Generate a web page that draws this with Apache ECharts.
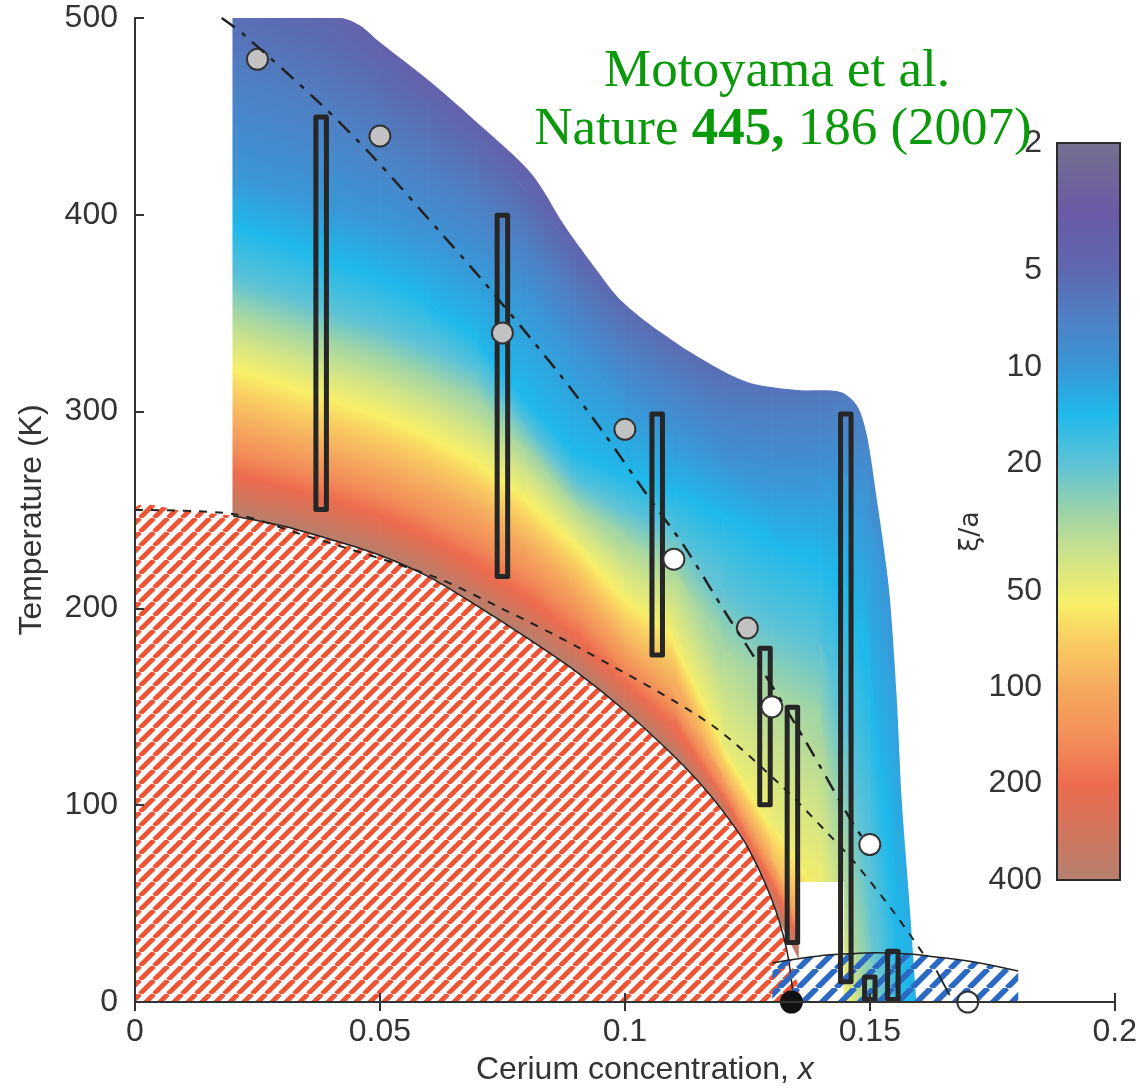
<!DOCTYPE html>
<html><head><meta charset="utf-8">
<script src="https://cdn.jsdelivr.net/npm/echarts@6/dist/echarts.min.js"></script>
<style>html,body{margin:0;padding:0;background:#fff;}#c{width:1140px;height:1091px;}</style>
</head><body><div id="c"></div>
<script>
// ---------------- data ----------------
const xTicks = [0, 0.05, 0.1, 0.15, 0.2];
const yTicks = [0, 100, 200, 300, 400, 500];
const cbTicks = [2, 5, 10, 20, 50, 100, 200, 400];

// colormap of xi/a (colour bar)
const cmapXi = [2, 3.3, 5, 7, 10, 14, 20, 30, 40, 55, 70, 100, 150, 200, 300, 400];
const cmapColors = ['#77708e','#6a5aa6','#5e68b0','#4f80c4','#3a96d6','#1fb8ea','#5cc2d6','#a6d6a2',
                    '#d2e486','#f8ef68','#f9cf62','#f5aa5e','#f28a58','#ec6b4e','#cc7760','#b5806e'];

// xi/a contour temperatures (K) at each concentration column
const fieldX = [0.02,0.03,0.04,0.05,0.06,0.07,0.08,0.09,0.10,0.11,0.12,0.13,0.14,0.145,0.15,0.155,0.16];
const levels = [2, 3, 5, 10, 14, 20, 30, 50, 100, 200, 400];
const tXi2   = [640,630,620,600,580,560,535,505,480,460,450,445,440,440,440,440,440];
const tXi3   = [560,548,535,515,492,470,445,412,382,362,360,365,370,375,380,385,390];
const tXi5   = [515,505,494,474,455,436,412,380,356,340,327,330,330,335,340,340,335];
const tXi10  = [420,413,405,396,386,374,356,328,305,288,272,262,265,268,245,200,140];
const tXi14  = [395,386,377,368,356,335,305,278,268,258,248,235,222,212,170,40,-40];
const tXi20  = [368,360,351,343,333,321,292,264,250,238,210,190,182,140,60,-40,-80];
const tXi30  = [350,342,334,326,316,304,280,252,235,220,180,160,140,70,-20,-80,-120];
const tXi50  = [326,318,310,302,292,278,258,235,208,190,130,90,60,0,-60,-120,-160];
const tXi100 = [294,287,280,272,262,250,232,210,182,160,115,72,20,-20,-100,-160,-200];
const tXi200 = [268,262,255,247,236,222,205,186,162,140,105,60,10,-40,-140,-200,-240];
const tXi400 = [246,241,234,226,215,200,185,167,147,124,96,49,0,-60,-180,-240,-280];

// upper / right edge of the measured region
const topX = [0.02,0.042,0.046,0.0498,0.0606,0.0707,0.0809,0.0878,0.0945,0.0986,0.1047,0.1148,0.125,0.135,0.144,0.1474,0.1494,0.1514,0.1529,0.1541,0.1555,0.1565,0.158,0.1595,0.1599];
const topT = [500,500,496,488,467,445,421,394,371,358,345,328,315,311,310,303,288,256,230,205,154,103,53,0,-20];
// empty patch near x = 0.14 at low T
const gapX = [0.1355, 0.1447];
const gapT = [0, 61];

// antiferromagnetic dome (red hatch)
const domeX = [0,0.01,0.02,0.03,0.04,0.05,0.06,0.07,0.08,0.09,0.10,0.11,0.115,0.12,0.125,0.13,0.133,0.1345];
const domeT = [250,249.5,247,242,235,227,216,201,185,168,148,125,112,97,79,52,27,0];
// superconducting dome (blue hatch)
const scX = [0.1301,0.136,0.1419,0.147,0.1508,0.158,0.1622,0.171,0.1803];
const scT = [19.8,22.2,24,24.7,25,24.4,23.3,20.5,15.7];

// dashed curves
const shortDashX = [0,0.02,0.0335,0.0606,0.074,0.091,0.117,0.1315,0.1413,0.1467,0.1545,0.1616];
const shortDashT = [250,248,238,216.5,201,179.5,142,111,86,71.5,47,22];
const tailX = [0.1636,0.1663];
const tailT = [16,3.5];
const dashDotX = [0.0177,0.022,0.0376,0.0484,0.062,0.0715,0.087,0.096,0.1047,0.112,0.121,0.1267,0.137,0.1467,0.149];
const dashDotT = [500,492,457,430,392,365,318,288,257,232,196,174,132,90,82];

// measured ranges (open boxes)
const barX    = [0.038,0.075,0.1066,0.1286,0.1342,0.1451,0.15,0.1547];
const barLow  = [249,215,175,99,29,9,0,0];
const barHigh = [451,401,300,181,151,300,14,27];

// points
const greyX = [0.025,0.05,0.075,0.1,0.125];
const greyT = [479,440,340,291,190];
const whiteX = [0.11,0.13,0.15,0.17];
const whiteT = [225,150,80,0];
const blackX = [0.134];
const blackT = [0];

// ---------------- helpers ----------------
const FONT = "'Liberation Sans', Arial, Helvetica, sans-serif";
const SERIF = "'Liberation Serif', 'Times New Roman', serif";
const zip = (xs, ys) => xs.map((x, i) => [x, ys[i]]);
const levelCurves = [tXi2,tXi3,tXi5,tXi10,tXi14,tXi20,tXi30,tXi50,tXi100,tXi200,tXi400];

function hex2rgb(h){return [parseInt(h.slice(1,3),16),parseInt(h.slice(3,5),16),parseInt(h.slice(5,7),16)];}
const cmapRGB = cmapColors.map(hex2rgb);
const cmapL = cmapXi.map(Math.log10);
function colorAt(xi){
  const l = Math.log10(xi);
  if (l <= cmapL[0]) return cmapColors[0];
  for (let j = 1; j < cmapL.length; j++) {
    if (l <= cmapL[j]) {
      const f = (l - cmapL[j-1]) / (cmapL[j] - cmapL[j-1]);
      const a = cmapRGB[j-1], b = cmapRGB[j];
      return 'rgb(' + a.map((v, q) => Math.round(v + (b[q]-v)*f)).join(',') + ')';
    }
  }
  return cmapColors[cmapColors.length-1];
}
function bandStops(a, b){
  const la = Math.log10(a), lb = Math.log10(b);
  const s = [{offset:0, color:colorAt(a)}];
  cmapXi.forEach((v, j) => { const l = cmapL[j]; if (l > la && l < lb) s.push({offset:(l-la)/(lb-la), color:cmapColors[j]}); });
  s.push({offset:1, color:colorAt(b)});
  return s;
}
function makeHatch(period, lw, color, bg){
  const c = document.createElement('canvas'); c.width = c.height = period;
  const ctx = c.getContext('2d');
  if (bg) { ctx.fillStyle = bg; ctx.fillRect(0,0,period,period); }
  ctx.strokeStyle = color; ctx.lineWidth = lw;
  [-period, 0, period].forEach(o => { ctx.beginPath(); ctx.moveTo(o, period); ctx.lineTo(o+period, 0); ctx.stroke(); });
  return c;
}
const redHatch = makeHatch(14, 4.8, '#ef5434', '#ffffff');
const blueHatch = makeHatch(19, 5.8, '#2c69c2', null);

const sub=(a,b)=>[a[0]-b[0],a[1]-b[1]], add=(a,b)=>[a[0]+b[0],a[1]+b[1]];
const nrm=a=>{const l=Math.hypot(a[0],a[1])||1;return [a[0]/l,a[1]/l];};
const mid=(a,b)=>[(a[0]+b[0])/2,(a[1]+b[1])/2], dot=(a,b)=>a[0]*b[0]+a[1]*b[1];

function fieldItem(params, api){
  const i = api.value(0);
  const children = [];
  for (let k = 0; k < levels.length - 1; k++) {
    const up = levelCurves[k], lo = levelCurves[k+1];
    const p0 = api.coord([fieldX[i], up[i]]), p1 = api.coord([fieldX[i+1], up[i+1]]);
    const p2 = api.coord([fieldX[i+1], lo[i+1]]), p3 = api.coord([fieldX[i], lo[i]]);
    const m1 = mid(p0,p1), m2 = mid(p3,p2);
    const d = nrm(add(nrm(sub(p1,p0)), nrm(sub(p2,p3))));
    const n = [-d[1], d[0]];
    const pr = dot(sub(m2,m1), n);
    const e = [m1[0]+n[0]*pr, m1[1]+n[1]*pr];
    const g = new echarts.graphic.LinearGradient(m1[0], m1[1], e[0], e[1], bandStops(levels[k], levels[k+1]), true);
    children.push({type:'polygon', shape:{points:[p0,p1,p2,p3]}, style:{fill:g, stroke:g, lineWidth:1}});
  }
  return {type:'group', children};
}
function polyItem(pts, style, smooth, kind){
  return function(params, api){
    return {type: kind || 'polygon', shape:{points: pts.map(p => api.coord(p)), smooth: smooth || 0}, style};
  };
}
const topMaskPts = [[-0.01, 500]].concat(zip(topX, topT)).concat([[0.21,-20],[0.21,530],[-0.01,530]]);
const gapPts = [[gapX[0],gapT[0]],[gapX[0],gapT[1]],[gapX[1],gapT[1]],[gapX[1],gapT[0]]];
const domePts = [[0,0]].concat(zip(domeX, domeT));
const domeEdgePts = zip(domeX, domeT).filter(p => p[0] >= 0.02);
const scPts = [[scX[0],0]].concat(zip(scX, scT)).concat([[scX[scX.length-1],0]]);

function barItem(params, api){
  const x = api.value(0), lo = api.value(1), hi = api.value(2);
  const a = api.coord([x, hi]), b = api.coord([x, lo]);
  const W = 15.5, S = 5;
  return {type:'rect', shape:{x:a[0]-W/2+S/2, y:a[1]+S/2, width:W-S, height:b[1]-a[1]-S},
          style:{fill:'none', stroke:'#262626', lineWidth:S, lineJoin:'round'}};
}
const LMIN = Math.log10(cbTicks[0]), LMAX = Math.log10(cbTicks[cbTicks.length-1]);
function cbItem(params, api){
  const a = api.coord([0, LMIN]), b = api.coord([1, LMAX]);
  const stops = cmapXi.map((v, j) => ({offset:(cmapL[j]-LMIN)/(LMAX-LMIN), color:cmapColors[j]}));
  const y0 = Math.min(a[1], b[1]), y1 = Math.max(a[1], b[1]);
  const g = new echarts.graphic.LinearGradient(0, 0, 0, 1, a[1] < b[1] ? stops : stops.map(s=>({offset:1-s.offset,color:s.color})).reverse());
  return {type:'rect', shape:{x:a[0], y:y0, width:b[0]-a[0], height:y1-y0}, style:{fill:g, stroke:'#2b2b2b', lineWidth:2}};
}

const axisCol = '#333';
const lineSt = {color: axisCol, width: 2};
const chart = echarts.init(document.getElementById('c'), null, {renderer:'canvas'});
chart.setOption({
  animation: false,
  backgroundColor: '#fff',
  textStyle: {fontFamily: FONT},
  grid: [
    {left:135, right:20, top:18, bottom:87},
    {left:1057, top:143, width:63, height:737}
  ],
  xAxis: [
    {gridIndex:0, type:'value', min:xTicks[0], max:xTicks[xTicks.length-1], interval:0.05, position:'bottom', z:10,
     axisLine:{lineStyle:lineSt}, axisTick:{inside:true, length:9, lineStyle:lineSt},
     axisLabel:{fontSize:32, color:axisCol, margin:14, fontFamily:FONT}, splitLine:{show:false},
     name:'Cerium concentration, {i|x}', nameLocation:'middle', nameGap:52,
     nameTextStyle:{fontSize:32, color:axisCol, fontFamily:FONT, padding:[0,0,0,40],
                    rich:{i:{fontStyle:'italic', fontSize:32, color:axisCol, fontFamily:FONT}}}},
    {gridIndex:0, type:'value', min:xTicks[0], max:xTicks[xTicks.length-1], interval:0.05, position:'top', z:10,
     axisLine:{lineStyle:lineSt}, axisTick:{inside:true, length:9, lineStyle:lineSt},
     axisLabel:{show:false}, splitLine:{show:false}},
    {gridIndex:1, type:'value', min:0, max:1, show:false}
  ],
  yAxis: [
    {gridIndex:0, type:'value', min:yTicks[0], max:yTicks[yTicks.length-1], interval:100, position:'left', z:10,
     axisLine:{show:true, lineStyle:lineSt}, axisTick:{show:true, inside:true, length:9, lineStyle:lineSt},
     axisLabel:{fontSize:32, color:axisCol, margin:17, fontFamily:FONT}, splitLine:{show:false},
     name:'Temperature (K)', nameLocation:'middle', nameGap:87, nameRotate:90,
     nameTextStyle:{fontSize:32, color:axisCol, fontFamily:FONT, padding:[0,20,0,0]}},
    {gridIndex:0, type:'value', min:yTicks[0], max:yTicks[yTicks.length-1], interval:100, position:'right', z:10,
     axisLine:{show:true, lineStyle:lineSt}, axisTick:{show:false}, axisLabel:{show:false}, splitLine:{show:false}},
    {gridIndex:1, type:'value', min:LMIN, max:LMAX, inverse:true, position:'left', z:10,
     axisLine:{show:false}, axisTick:{show:false}, splitLine:{show:false},
     axisLabel:{customValues: cbTicks.map(Math.log10), formatter: v => String(Math.round(Math.pow(10, v))),
                fontSize:32, color:axisCol, margin:15, fontFamily:FONT},
     name:'ξ/a', nameLocation:'middle', nameRotate:90, nameGap:71,
     nameTextStyle:{fontSize:27, color:axisCol, fontFamily:"'DejaVu Sans', sans-serif", padding:[0,40,0,0]}}
  ],
  series: [
    {type:'custom', name:'field', xAxisIndex:0, yAxisIndex:0, clip:true, silent:true,
     data: fieldX.slice(0,-1).map((x,i)=>[i]), renderItem: fieldItem},
    {type:'custom', name:'mask', xAxisIndex:0, yAxisIndex:0, clip:true, silent:true,
     data:[[0]], renderItem: polyItem(topMaskPts, {fill:'#fff'}, 0.3)},
    {type:'custom', name:'gap', xAxisIndex:0, yAxisIndex:0, clip:true, silent:true,
     data:[[0]], renderItem: polyItem(gapPts, {fill:'#fff'})},
    {type:'custom', name:'AF', xAxisIndex:0, yAxisIndex:0, clip:true, silent:true,
     data:[[0]], renderItem: polyItem(domePts, {fill:{image:redHatch, repeat:'repeat'}}, 0.3)},
    {type:'custom', name:'AF edge', xAxisIndex:0, yAxisIndex:0, clip:true, silent:true,
     data:[[0]], renderItem: polyItem(domeEdgePts, {fill:null, stroke:'#222', lineWidth:1.5}, 0.3, 'polyline')},
    {type:'custom', name:'SC', xAxisIndex:0, yAxisIndex:0, clip:true, silent:true,
     data:[[0]], renderItem: polyItem(scPts, {fill:{image:blueHatch, repeat:'repeat'}})},
    {type:'line', name:'SC edge', data: zip(scX, scT), smooth:0.4, showSymbol:false,
     lineStyle:{color:'#222', width:1.5}, silent:true},
    {type:'line', name:'short dash', data: zip(shortDashX, shortDashT), smooth:0.3, showSymbol:false,
     lineStyle:{color:'#222', width:2, type:[8,8]}, silent:true},
    {type:'line', name:'tail', data: zip(tailX, tailT), showSymbol:false,
     lineStyle:{color:'#222', width:1.8}, silent:true},
    {type:'line', name:'dash dot', data: zip(dashDotX, dashDotT), smooth:0.3, showSymbol:false,
     lineStyle:{color:'#222', width:2.5, type:[16,9,5,9]}, silent:true},
    {type:'custom', name:'ranges', xAxisIndex:0, yAxisIndex:0, clip:false, silent:true,
     data: barX.map((x,i)=>[x, barLow[i], barHigh[i]]), renderItem: barItem},
    {type:'scatter', name:'grey', data: zip(greyX, greyT), symbolSize:21, clip:false, silent:true,
     itemStyle:{color:'#c2c2c2', borderColor:'#333', borderWidth:2, opacity:1}},
    {type:'scatter', name:'white', data: zip(whiteX, whiteT), symbolSize:21, clip:false, silent:true,
     itemStyle:{color:'#ffffff', borderColor:'#333', borderWidth:2, opacity:1}},
    {type:'scatter', name:'black', data: zip(blackX, blackT), symbolSize:21, clip:false, silent:true,
     itemStyle:{color:'#111', borderColor:'#111', borderWidth:2, opacity:1}},
    {type:'custom', name:'colorbar', xAxisIndex:2, yAxisIndex:2, clip:false, silent:true,
     data:[[0]], renderItem: cbItem}
  ],
  graphic: [
    {type:'text', x:777, y:72, z:20, style:{text:'Motoyama et al.', fill:'#0a990a', fontSize:53, fontFamily:SERIF,
      align:'center', verticalAlign:'middle'}},
    {type:'text', x:783, y:130, z:20, style:{text:'{n|Nature }{b|445,}{n| 186 (2007)}', fill:'#0a990a', fontSize:53, fontFamily:SERIF,
      align:'center', verticalAlign:'middle',
      rich:{n:{fontSize:53, fontFamily:SERIF, fill:'#0a990a'}, b:{fontSize:53, fontFamily:SERIF, fill:'#0a990a', fontWeight:'bold'}}}}
  ]
});
</script></body></html>
